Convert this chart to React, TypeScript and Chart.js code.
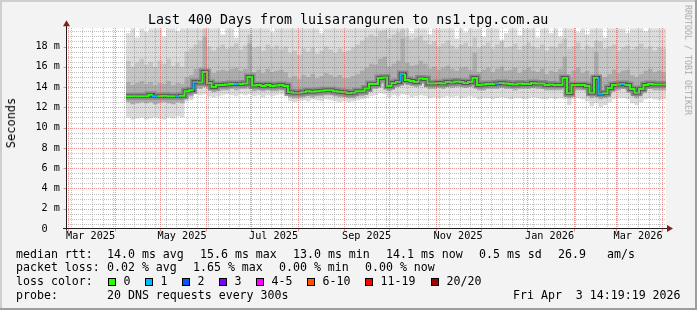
import React, { useEffect, useRef } from 'react';
import { Chart, registerables } from 'chart.js';
Chart.register(...registerables);

// ---------- time frame ----------
const DAY_MS = 86400000;
const START_MS = Date.UTC(2025, 1, 27, 14, 19, 19); // 400 days before end
const RANGE_DAYS = 400;
const toDay = (ms: number) => (ms - START_MS) / DAY_MS;

// sample grid: one consolidated value every 3 days, from day 40 to 400
const sampleDays: number[] = Array.from({ length: 121 }, (_, i) => 40 + 3 * i);

// ---------- data (milliseconds) ----------
const medianRtt = [
  13.1, 13.1, 13.1, 13.1, 13.1, 13.1, 13.25, 13.1, 13.1, 13.15,
  13.1, 13.1, 13.1, 13.15, 13.6, 13.7, 14.5, 14.45, 15.5, 14.4,
  14.0, 14.2, 14.2, 14.25, 14.3, 14.3, 14.3, 14.35, 15.0, 14.15,
  14.2, 14.1, 14.2, 14.1, 14.15, 14.2, 14.1, 13.5, 13.45, 13.45,
  13.5, 13.6, 13.55, 13.6, 13.65, 13.7, 13.7, 13.6, 13.55, 13.5,
  13.4, 13.45, 13.6, 13.6, 13.85, 14.3, 14.3, 14.9, 14.95, 14.1,
  14.4, 14.5, 15.3, 14.7, 14.6, 14.5, 14.85, 14.8, 14.35, 14.35,
  14.4, 14.35, 14.5, 14.45, 14.55, 14.5, 14.4, 14.5, 14.9, 14.2,
  14.25, 14.3, 14.3, 14.35, 14.4, 14.35, 14.3, 14.25, 14.35, 14.3,
  14.3, 14.4, 14.35, 14.35, 14.2, 14.25, 14.2, 14.2, 14.9, 13.4,
  14.2, 14.2, 14.2, 14.1, 13.45, 14.9, 13.35, 13.4, 13.9, 14.2,
  14.25, 14.3, 14.2, 13.8, 13.45, 13.8, 14.2, 14.3, 14.25, 14.25,
  14.25,
];

const lostPings = [
  0, 0, 0, 0, 0, 0, 1, 0, 0, 0,
  0, 1, 0, 0, 0, 1, 0, 0, 0, 0,
  0, 0, 0, 0, 1, 0, 0, 0, 0, 0,
  0, 0, 0, 0, 0, 0, 0, 0, 0, 0,
  0, 0, 0, 0, 0, 0, 0, 0, 0, 0,
  0, 0, 0, 0, 0, 0, 0, 0, 0, 0,
  0, 1, 0, 0, 0, 0, 0, 0, 0, 0,
  0, 0, 0, 0, 0, 0, 0, 0, 0, 0,
  0, 0, 1, 0, 0, 0, 0, 0, 0, 0,
  0, 0, 0, 0, 0, 0, 0, 0, 0, 0,
  0, 0, 0, 0, 0, 1, 0, 0, 0, 0,
  1, 0, 0, 0, 0, 0, 0, 0, 0, 0,
  0,
];

const smokeMax = [
  21, 19.3, 21, 18.9, 21, 19.4, 21, 21, 21, 19.0,
  21, 21, 19.5, 21, 21, 21, 21, 21, 21, 21,
  21, 21, 19.2, 21, 21, 18.9, 21, 21, 21, 21,
  21, 21, 21, 19.4, 21, 21, 21, 21, 21, 21,
  21, 21, 21, 21, 19.3, 21, 21, 21, 21, 21,
  21, 21, 21, 21, 21, 21, 21, 21, 21, 21,
  21, 21, 21, 21, 19.3, 21, 21, 21, 19.2, 21,
  21, 21, 21, 21, 18.8, 21, 19.4, 21, 21, 21,
  19.0, 21, 21, 21, 18.7, 19.3, 21, 21, 19.1, 21,
  21, 21, 18.9, 21, 21, 19.3, 21, 19.0, 21, 21,
  21, 19.4, 21, 19.2, 21, 21, 21, 18.9, 21, 21,
  21, 21, 19.3, 21, 21, 21, 19.5, 21, 21, 21,
  21,
];

const smokeHi = [
  16.2, 16.6, 16.0, 16.4, 16.8, 16.2, 16.5, 16.0, 16.6, 16.3,
  16.8, 16.1, 16.4, 16.0, 17.5, 17.8, 18.2, 18.6, 19.8, 18.0,
  17.6, 17.9, 18.2, 17.8, 18.0, 18.3, 17.7, 18.1, 19.2, 17.9,
  18.0, 17.6, 18.2, 17.8, 18.1, 17.7, 18.0, 17.4, 17.6, 17.2,
  17.8, 17.5, 17.9, 17.3, 17.6, 18.0, 17.7, 17.4, 17.8, 17.5,
  17.6, 17.9, 18.2, 18.6, 18.9, 19.2, 19.0, 19.5, 19.6, 18.8,
  19.2, 19.4, 19.8, 19.0, 18.7, 18.9, 19.1, 18.6, 18.2, 18.5,
  18.0, 18.3, 18.6, 18.1, 17.8, 18.2, 18.4, 18.0, 18.9, 17.9,
  18.1, 18.4, 17.8, 18.2, 18.5, 17.9, 18.0, 18.3, 17.7, 18.1,
  18.4, 18.0, 17.8, 18.2, 17.6, 18.0, 17.9, 18.3, 18.8, 17.8,
  18.0, 18.4, 17.7, 18.1, 17.9, 18.6, 18.5, 17.8, 18.0, 18.2,
  17.6, 17.9, 18.1, 17.7, 18.0, 18.3, 17.8, 18.0, 17.6, 17.9,
  17.8,
];

const smokeMid = [
  14.3, 14.5, 14.2, 14.4, 14.6, 14.3, 14.5, 14.2, 14.4, 14.3,
  14.6, 14.2, 14.4, 14.3, 15.0, 15.2, 15.8, 15.9, 19.0, 15.7,
  15.4, 15.6, 15.7, 15.6, 15.8, 15.9, 15.6, 15.8, 18.3, 15.5,
  15.7, 15.4, 15.8, 15.5, 15.6, 15.7, 15.5, 14.9, 15.1, 14.8,
  15.2, 15.0, 15.3, 14.9, 15.1, 15.4, 15.2, 15.0, 15.2, 14.9,
  14.9, 15.1, 15.3, 15.6, 15.9, 16.3, 16.2, 16.8, 17.0, 16.0,
  16.3, 16.6, 18.8, 16.4, 16.1, 16.2, 16.6, 16.3, 15.8, 16.0,
  15.7, 15.9, 16.1, 15.8, 15.6, 15.9, 16.0, 15.7, 17.4, 15.5,
  15.7, 15.9, 15.5, 15.8, 16.0, 15.6, 15.7, 15.9, 15.4, 15.7,
  15.9, 15.6, 15.5, 15.8, 15.3, 15.6, 15.5, 15.8, 17.0, 15.0,
  15.6, 15.9, 15.4, 15.6, 15.0, 17.5, 14.9, 15.0, 15.3, 15.7,
  15.4, 15.6, 15.7, 15.2, 15.0, 15.3, 15.6, 15.8, 15.5, 15.6,
  15.5,
];

const smokeLo = [
  12.4, 12.5, 12.3, 12.4, 12.5, 12.4, 12.5, 12.3, 12.4, 12.5,
  12.4, 12.3, 12.5, 12.4, 12.9, 13.1, 13.9, 13.8, 14.0, 13.8,
  13.5, 13.6, 13.7, 13.7, 13.8, 13.7, 13.8, 13.8, 14.0, 13.6,
  13.7, 13.6, 13.7, 13.6, 13.6, 13.7, 13.6, 13.0, 12.9, 12.9,
  13.0, 13.1, 13.0, 13.1, 13.1, 13.2, 13.2, 13.1, 13.0, 13.0,
  12.9, 12.9, 13.1, 13.1, 13.3, 13.8, 13.8, 14.3, 14.4, 13.6,
  13.9, 14.0, 14.4, 14.2, 14.1, 14.0, 14.3, 14.3, 13.8, 13.8,
  13.9, 13.8, 14.0, 13.9, 14.0, 14.0, 13.9, 14.0, 14.2, 13.7,
  13.7, 13.8, 13.8, 13.8, 13.9, 13.8, 13.8, 13.7, 13.8, 13.8,
  13.8, 13.9, 13.8, 13.8, 13.7, 13.7, 13.7, 13.7, 14.1, 12.9,
  13.6, 13.7, 13.7, 13.5, 12.9, 13.9, 12.8, 12.9, 13.3, 13.7,
  13.7, 13.8, 13.7, 13.2, 12.9, 13.3, 13.7, 13.8, 13.7, 13.7,
  13.7,
];

const smokeMin = [
  10.9, 11.0, 10.8, 10.9, 11.0, 10.8, 10.9, 11.0, 10.9, 10.8,
  11.0, 10.9, 11.1, 11.0, 12.6, 12.7, 13.3, 13.2, 13.3, 13.1,
  13.0, 13.1, 13.2, 13.3, 13.2, 13.1, 13.3, 13.2, 13.3, 13.1,
  13.2, 13.0, 13.2, 13.1, 13.2, 13.3, 13.1, 12.6, 12.5, 12.6,
  12.7, 12.6, 12.8, 12.7, 12.6, 12.8, 12.7, 12.6, 12.5, 12.6,
  12.5, 12.6, 12.7, 12.8, 12.9, 13.1, 13.2, 13.4, 13.3, 13.0,
  13.2, 13.1, 13.3, 13.2, 13.0, 13.1, 13.2, 13.1, 12.9, 13.0,
  12.9, 13.0, 13.1, 13.0, 13.1, 12.9, 13.0, 13.1, 13.0, 12.8,
  12.9, 12.9, 12.8, 12.9, 13.0, 12.9, 12.8, 12.9, 12.9, 12.8,
  12.9, 13.0, 12.9, 12.8, 12.8, 12.9, 12.8, 12.9, 12.8, 12.2,
  12.8, 12.9, 12.8, 12.6, 12.1, 12.4, 12.0, 12.2, 12.5, 12.8,
  12.9, 12.9, 12.8, 12.4, 12.2, 12.5, 12.8, 12.9, 12.8, 12.7,
  12.8,
];

// loss colour legend
const lossLabels = ['0', '1', '2', '3', '4-5', '6-10', '11-19', '20/20'];
const lossColors = ['#26ff00', '#00b8ff', '#0059ff', '#7e00ff', '#ff00ff', '#ff5500', '#ff0000', '#a10000'];

// ---------- axis ticks ----------
const Y_MAX = 19.8;
const yGridValues: number[] = Array.from({ length: 40 }, (_, i) => i * 0.5);
const yLabel = (v: number) => (v === 0 ? '0  ' : v % 2 === 0 ? `${v} m` : '');

const gridMonths: [number, number][] = [
  [2025, 2], [2025, 3], [2025, 4], [2025, 5], [2025, 6], [2025, 7], [2025, 8],
  [2025, 9], [2025, 10], [2025, 11], [2026, 0], [2026, 1], [2026, 2], [2026, 3],
];
const labelMonths: [number, number][] = [
  [2025, 2], [2025, 4], [2025, 6], [2025, 8], [2025, 10], [2026, 0], [2026, 2],
];
const monthLabels = ['Mar 2025', 'May 2025', 'Jul 2025', 'Sep 2025', 'Nov 2025', 'Jan 2026', 'Mar 2026'];

const RED = 'rgba(222,79,79,0.6)';
const GRAY = 'rgba(130,130,130,0.5)';
const key = (v: number) => Math.round(v * 1e6) / 1e6;

type TickInfo = { grid: string; label: string };
const xTickInfo = new Map<number, TickInfo>();
(() => {
  for (let t = Date.UTC(2025, 2, 3); toDay(t) < RANGE_DAYS; t += 7 * DAY_MS) {
    xTickInfo.set(key(toDay(t)), { grid: GRAY, label: '' });
  }
  gridMonths.forEach(([y, m]) => {
    xTickInfo.set(key(toDay(Date.UTC(y, m, 1))), { grid: RED, label: '' });
  });
  labelMonths.forEach(([y, m], i) => {
    const k = key(toDay(Date.UTC(y, m, 1) + 15 * DAY_MS));
    const prev = xTickInfo.get(k);
    xTickInfo.set(k, { grid: prev ? prev.grid : '', label: monthLabels[i] });
  });
})();

const MONO = "'DejaVu Sans Mono', monospace";

const decorPlugin = {
  id: 'decor',
  beforeDraw(chart: any) {
    const { ctx, chartArea: a, width, height } = chart;
    ctx.save();
    ctx.fillStyle = '#f3f3f3';
    ctx.fillRect(0, 0, width, height);
    ctx.fillStyle = '#cfcfcf';
    ctx.fillRect(0, 0, width, 2);
    ctx.fillRect(0, 0, 2, height);
    ctx.fillStyle = '#9e9e9e';
    ctx.fillRect(0, height - 2, width, 2);
    ctx.fillRect(width - 2, 0, 2, height);
    ctx.fillStyle = '#ffffff';
    ctx.fillRect(a.left, a.top, a.right - a.left, a.bottom - a.top);
    ctx.restore();
  },
  afterDatasetsDraw(chart: any) {
    // dotted grid, drawn over the smoke like rrdtool does
    const { ctx, chartArea: a, scales } = chart;
    const xs = scales.x;
    const ys = scales.y;
    ctx.save();
    ctx.lineWidth = 1;
    ctx.setLineDash([1, 1]);
    const drawV = (v: number, color: string) => {
      const px = Math.round(xs.getPixelForValue(v)) + 0.5;
      ctx.strokeStyle = color;
      ctx.beginPath();
      ctx.moveTo(px, Math.round(a.top));
      ctx.lineTo(px, a.bottom);
      ctx.stroke();
    };
    const drawH = (v: number, color: string) => {
      const py = Math.round(ys.getPixelForValue(v)) + 0.5;
      ctx.strokeStyle = color;
      ctx.beginPath();
      ctx.moveTo(a.left, py);
      ctx.lineTo(a.right, py);
      ctx.stroke();
    };
    yGridValues.forEach((v) => { if (v !== 0 && v % 2 !== 0) drawH(v, GRAY); });
    xTickInfo.forEach((info, v) => { if (info.grid === GRAY) drawV(v, GRAY); });
    yGridValues.forEach((v) => { if (v !== 0 && v % 2 === 0) drawH(v, RED); });
    xTickInfo.forEach((info, v) => { if (info.grid === RED) drawV(v, RED); });
    ctx.restore();
  },
  afterDraw(chart: any) {
    const { ctx, chartArea: a, scales } = chart;
    const xs = scales.x;
    const ys = scales.y;
    const y0 = Math.round(ys.getPixelForValue(0)) - 0.5;
    const x0 = Math.round(a.left) + 0.5;
    ctx.save();
    ctx.lineWidth = 1;
    ctx.strokeStyle = RED;
    gridMonths.forEach(([y, m]) => {
      const px = Math.round(xs.getPixelForValue(toDay(Date.UTC(y, m, 1)))) + 0.5;
      ctx.beginPath();
      ctx.moveTo(px, y0);
      ctx.lineTo(px, y0 + 3);
      ctx.stroke();
    });
    yGridValues.forEach((v) => {
      if (v === 0 || v % 2 !== 0) return;
      const py = Math.round(ys.getPixelForValue(v)) + 0.5;
      ctx.beginPath();
      ctx.moveTo(x0 - 3, py);
      ctx.lineTo(x0, py);
      ctx.stroke();
    });
    ctx.strokeStyle = '#1f1f1f';
    ctx.beginPath();
    ctx.moveTo(a.left - 3, y0);
    ctx.lineTo(a.right + 2, y0);
    ctx.moveTo(x0, y0 + 2);
    ctx.lineTo(x0, a.top - 3);
    ctx.stroke();
    ctx.fillStyle = '#7f1f1f';
    ctx.beginPath();
    ctx.moveTo(a.right + 7, y0);
    ctx.lineTo(a.right + 1, y0 - 3.5);
    ctx.lineTo(a.right + 1, y0 + 3.5);
    ctx.closePath();
    ctx.fill();
    ctx.beginPath();
    ctx.moveTo(x0, a.top - 8);
    ctx.lineTo(x0 - 3.5, a.top - 2);
    ctx.lineTo(x0 + 3.5, a.top - 2);
    ctx.closePath();
    ctx.fill();
    ctx.restore();
  },
};

const pts = (vals: number[]) => sampleDays.map((d, i) => ({ x: d, y: vals[i] }));

function Text({ x, y, s, size = 11.6 }: { x: number; y: number; s: string; size?: number }) {
  return (
    <div
      style={{
        position: 'absolute', left: x, top: y, fontFamily: MONO, fontSize: size,
        lineHeight: 1, whiteSpace: 'pre', color: '#000',
      }}
    >
      {s}
    </div>
  );
}

export default function App() {
  const ref = useRef<HTMLCanvasElement>(null);

  useEffect(() => {
    const line = (extra: any) => ({
      stepped: 'after', pointRadius: 0, tension: 0, clip: 0, fill: false,
      borderWidth: 0, borderColor: 'rgba(0,0,0,0)', ...extra,
    });
    const chart = new Chart(ref.current as HTMLCanvasElement, {
      type: 'line',
      data: {
        datasets: [
          line({
            data: pts(medianRtt), borderColor: lossColors[0], borderWidth: 2, order: 0,
            segment: { borderColor: (c: any) => lossColors[lostPings[c.p0DataIndex]] || lossColors[0] },
          }),
          line({ data: pts(medianRtt), borderColor: '#444444', borderWidth: 3.5, order: 1 }),
          line({ data: pts(medianRtt), borderColor: '#8a8a8a', borderWidth: 7, order: 2 }),
          line({ data: pts(smokeMid), backgroundColor: '#adadad', fill: 4, order: 3 }),
          line({ data: pts(smokeLo), order: 4 }),
          line({ data: pts(smokeHi), backgroundColor: '#c6c6c6', fill: 6, order: 5 }),
          line({ data: pts(smokeLo), order: 6 }),
          line({ data: pts(smokeMax), backgroundColor: '#dcdcdc', fill: 8, order: 7 }),
          line({ data: pts(smokeMin), order: 8 }),
        ] as any,
      },
      options: {
        animation: false,
        responsive: false,
        maintainAspectRatio: false,
        devicePixelRatio: 1,
        events: [],
        layout: { padding: { left: 0, right: 31, top: 28.3, bottom: 0 } },
        plugins: { legend: { display: false }, tooltip: { enabled: false }, title: { display: false } },
        scales: {
          x: {
            type: 'linear',
            min: 0,
            max: RANGE_DAYS,
            afterFit: (s: any) => { s.height = 81; },
            afterBuildTicks: (s: any) => {
              s.ticks = Array.from(xTickInfo.keys()).sort((p, q) => p - q).map((v) => ({ value: v }));
            },
            ticks: {
              autoSkip: false,
              maxRotation: 0,
              minRotation: 0,
              padding: 1.5,
              color: '#000',
              font: { family: MONO, size: 10.2 },
              callback: (v: any) => (xTickInfo.get(key(Number(v))) || { label: '' }).label,
            },
            grid: { display: false, drawTicks: false },
            border: { display: false },
          },
          y: {
            type: 'linear',
            min: 0,
            max: Y_MAX,
            afterFit: (s: any) => { s.width = 66; },
            afterBuildTicks: (s: any) => { s.ticks = yGridValues.map((v) => ({ value: v })); },
            ticks: {
              autoSkip: false,
              padding: 6,
              color: '#000',
              font: { family: MONO, size: 10.2 },
              callback: (v: any) => yLabel(Number(v)),
            },
            grid: { display: false, drawTicks: false },
            border: { display: false },
          },
        },
      } as any,
      plugins: [decorPlugin],
    });
    return () => chart.destroy();
  }, []);

  const boxX = [108, 145, 182, 219, 256, 307, 365, 431];

  return (
    <div style={{ position: 'absolute', left: 0, top: 0, width: 697, height: 310, overflow: 'hidden' }}>
      <canvas ref={ref} width={697} height={310} style={{ position: 'absolute', left: 0, top: 0, width: 697, height: 310 }} />
      <Text x={148} y={12.8} s="Last 400 Days from luisaranguren to ns1.tpg.com.au" size={13.3} />
      <div
        style={{
          position: 'absolute', left: 10.5, top: 123, transform: 'translate(-50%, -50%) rotate(-90deg)',
          fontFamily: MONO, fontSize: 12, lineHeight: 1, whiteSpace: 'pre', color: '#000',
        }}
      >
        Seconds
      </div>
      <div
        style={{
          position: 'absolute', left: 687.5, top: 60, transform: 'translate(-50%, -50%) rotate(90deg)',
          fontFamily: MONO, fontSize: 8.3, lineHeight: 1, whiteSpace: 'pre', color: '#a8a8a8',
        }}
      >
        RRDTOOL / TOBI OETIKER
      </div>

      <Text x={16} y={248.7} s="median rtt:" />
      <Text x={107} y={248.7} s="14.0 ms avg" />
      <Text x={200} y={248.7} s="15.6 ms max" />
      <Text x={293} y={248.7} s="13.0 ms min" />
      <Text x={386} y={248.7} s="14.1 ms now" />
      <Text x={479} y={248.7} s="0.5 ms sd" />
      <Text x={558} y={248.7} s="26.9" />
      <Text x={607} y={248.7} s="am/s" />

      <Text x={16} y={262.4} s="packet loss:" />
      <Text x={107} y={262.4} s="0.02 % avg" />
      <Text x={193} y={262.4} s="1.65 % max" />
      <Text x={279} y={262.4} s="0.00 % min" />
      <Text x={365} y={262.4} s="0.00 % now" />

      <Text x={16} y={276.1} s="loss color:" />
      {lossLabels.map((lab, i) => (
        <React.Fragment key={lab}>
          <div
            style={{
              position: 'absolute', left: boxX[i], top: 278, width: 6, height: 6,
              border: '1px solid #000', background: lossColors[i],
            }}
          />
          <Text x={boxX[i] + 15.5} y={276.1} s={lab} />
        </React.Fragment>
      ))}

      <Text x={16} y={289.6} s="probe:" />
      <Text x={107} y={289.6} s="20 DNS requests every 300s" />
      <Text x={513} y={289.6} s="Fri Apr  3 14:19:19 2026" />
    </div>
  );
}
